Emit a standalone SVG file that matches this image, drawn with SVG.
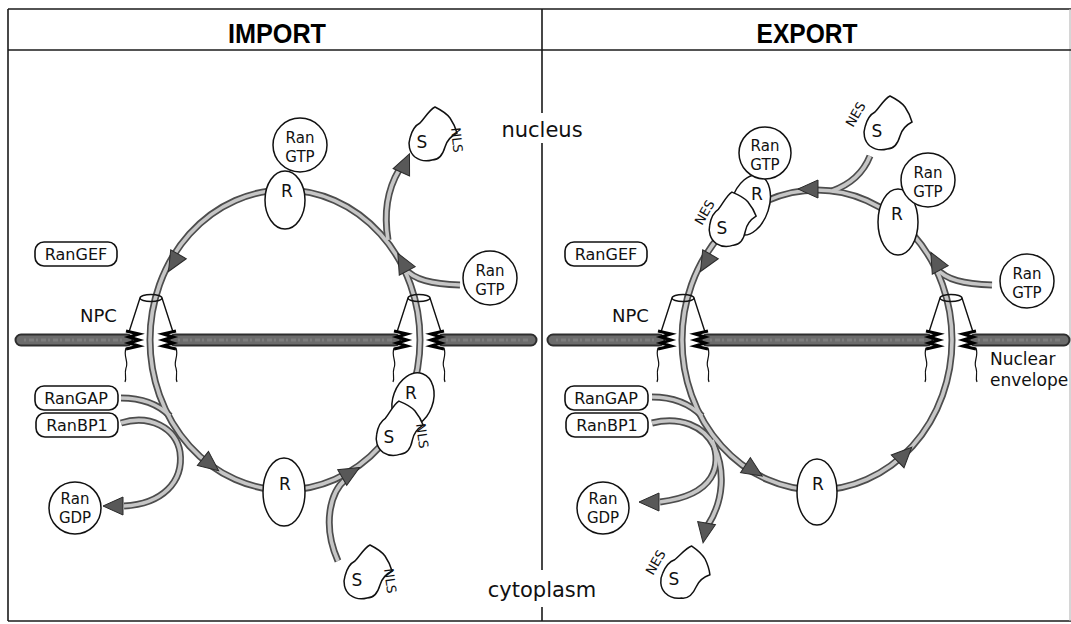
<svg xmlns="http://www.w3.org/2000/svg" width="1071" height="624" viewBox="0 0 1071 624">
<defs>
<style>
.t{font-family:"DejaVu Sans","Liberation Sans",sans-serif;fill:#111}
.title{font-family:"Liberation Sans","DejaVu Sans",sans-serif;font-weight:bold;font-size:28px;text-anchor:middle;fill:#000}
.big{font-size:21px;text-anchor:middle}
.lbl{font-size:16px;text-anchor:middle}
.sm{font-size:15px;text-anchor:middle}
.rr{font-size:17px;text-anchor:middle}
.sig{font-size:13px}
.frame{stroke:#1a1a1a;stroke-width:1.6;fill:none}
.node{fill:#fff;stroke:#111;stroke-width:1.5}
.box{fill:#fff;stroke:#111;stroke-width:1.6}
.ah{fill:#585858;stroke:#2a2a2a;stroke-width:1}
.memo{stroke:#2e2e2e;stroke-width:13;stroke-linecap:round;fill:none}
.memi{stroke:#6c6c6c;stroke-width:9;stroke-linecap:round;fill:none}
.memt{stroke:#7d7d7d;stroke-width:3;stroke-dasharray:2 3 5 2;fill:none}
.npc{stroke:#111;fill:none;stroke-width:1.4}
.zz{stroke:#000;stroke-width:3;fill:none}
.trko{fill:none;stroke:#4d4d4d;stroke-width:7}
.trki{fill:none;stroke:#c6c6c6;stroke-width:3.6}
</style>
<path id="cargo" d="M -3,-19 C 2,-24 6,-32 12,-35 C 18,-32 24,-28 27,-24 C 31,-18 33,-13 34,-9 C 28,-6 24,-2 22,5 C 20,12 16,18 9,18 C 2,20 -4,18 -8,15 C -14,10 -15,2 -13,-4 C -11,-12 -7,-17 -3,-19 Z"/>
<path id="ah" d="M 11,0 L -9,-9 L -9,9 Z"/>
<g id="npc">
<path d="M -11,-42 L -22,-8 M 11,-42 L 22,-8"/>
<ellipse cx="0" cy="-42" rx="11" ry="3.5"/>
<path d="M -25 8 c -3 8 3 14 0 20 c -2 6 1 10 -1 14 M 25 8 c 3 8 -3 14 0 20 c 2 6 -1 10 1 14" stroke-width="1.2"/>
<path class="zz" d="M -25,-9 L -12,-6 L -22,-3 L -12,0 L -22,3 L -12,6 L -25,9"/>
<path class="zz" d="M 25,-9 L 12,-6 L 22,-3 L 12,0 L 22,3 L 12,6 L 25,9"/>
</g>
<g id="trk">
<ellipse cx="285" cy="340" rx="135" ry="150"/>
<path d="M 460 285 C 432 284, 414 280, 404 268"/>
<path d="M 388 240 C 384 215, 386 192, 399 170"/>
<path d="M 121 398 C 142 398, 158 404, 170 416"/>
<path d="M 121 423 C 150 414, 176 428, 180 452 C 184 482, 162 504, 124 506"/>
<path d="M 346 479 C 330 492, 322 525, 338 561"/>
<ellipse cx="817" cy="340" rx="135" ry="150"/>
<path d="M 992 285 C 964 284, 946 280, 936 268"/>
<path d="M 832 191 C 846 186, 862 176, 870 156"/>
<path d="M 652 397 C 675 397, 690 404, 702 416"/>
<path d="M 652 423 C 680 416, 704 426, 714 446"/>
<path d="M 712 440 C 722 465, 716 495, 660 502"/>
<path d="M 714 446 C 725 470, 724 500, 708 525"/>
</g>
</defs>

<g id="frame">
<line class="frame" x1="8" y1="9" x2="1071" y2="9"/>
<line class="frame" x1="8" y1="9" x2="8" y2="621"/>
<line class="frame" x1="8" y1="621" x2="1071" y2="621" stroke="#555"/>
<line x1="1070" y1="9" x2="1070" y2="621" stroke="#bbb" stroke-width="1.2"/>
<line class="frame" x1="8" y1="50" x2="1071" y2="50"/>
<path class="frame" d="M 542 9 V 113 M 542 143 V 570 M 542 607 V 621"/>
</g>

<g id="titles">
<text class="title" x="277" y="43" textLength="98" lengthAdjust="spacingAndGlyphs">IMPORT</text>
<text class="title" x="807" y="43" textLength="101" lengthAdjust="spacingAndGlyphs">EXPORT</text>
<text class="t big" x="542" y="137">nucleus</text>
<text class="t big" x="542" y="597">cytoplasm</text>
</g>

<g id="membrane">
<path class="memo" d="M 21 340 H 127 M 175 340 H 395 M 443 340 H 531 M 553 340 H 659 M 707 340 H 927 M 975 340 H 1064"/>
<path class="memi" d="M 21 340 H 127 M 175 340 H 395 M 443 340 H 531 M 553 340 H 659 M 707 340 H 927 M 975 340 H 1064"/>
<path class="memt" d="M 24 340 H 124 M 178 340 H 392 M 446 340 H 528 M 556 340 H 656 M 710 340 H 924 M 978 340 H 1061"/>
<text class="t" x="990" y="365" font-size="17">Nuclear</text>
<text class="t" x="990" y="386" font-size="17">envelope</text>
</g>

<g id="connectors">
<use href="#trk" class="trko"/>
<use href="#trk" class="trki"/>
<use href="#ah" class="ah" transform="translate(174,262) rotate(120)"/>
<use href="#ah" class="ah" transform="translate(210,464) rotate(38)"/>
<use href="#ah" class="ah" transform="translate(350,473) rotate(-30)"/>
<use href="#ah" class="ah" transform="translate(403,263) rotate(-118)"/>
<use href="#ah" class="ah" transform="translate(405,164) rotate(-66)"/>
<use href="#ah" class="ah" transform="translate(114,506) rotate(180)"/>
<use href="#ah" class="ah" transform="translate(706,262) rotate(120)"/>
<use href="#ah" class="ah" transform="translate(809,189) rotate(180)"/>
<use href="#ah" class="ah" transform="translate(936,262) rotate(-118)"/>
<use href="#ah" class="ah" transform="translate(753,470) rotate(33)"/>
<use href="#ah" class="ah" transform="translate(904,455) rotate(-45)"/>
<use href="#ah" class="ah" transform="translate(650,502) rotate(180)"/>
<use href="#ah" class="ah" transform="translate(705,532) rotate(100)"/>
</g>

<g id="npcs" class="npc">
<use href="#npc" transform="translate(151,340)"/>
<use href="#npc" transform="translate(419,340)"/>
<use href="#npc" transform="translate(683,340)"/>
<use href="#npc" transform="translate(951,340)"/>
<text class="t" x="80" y="322" font-size="18" stroke="none">NPC</text>
<text class="t" x="612" y="322" font-size="18" stroke="none">NPC</text>
</g>

<!-- IMPORT panel nodes -->
<g id="imp-rangef"><rect class="box" x="35" y="242" width="82" height="24" rx="9"/><text class="t lbl" x="76" y="260">RanGEF</text></g>
<g id="imp-rangap"><rect class="box" x="35" y="386" width="83" height="24" rx="9"/><text class="t lbl" x="76" y="404">RanGAP</text></g>
<g id="imp-ranbp1"><rect class="box" x="36" y="413" width="82" height="24" rx="9"/><text class="t lbl" x="77" y="431">RanBP1</text></g>
<g id="imp-rangdp"><circle class="node" cx="75" cy="508" r="26"/><text class="t sm" x="75" y="504">Ran</text><text class="t sm" x="75" y="523">GDP</text></g>
<g id="imp-r-top"><ellipse class="node" cx="285" cy="200" rx="20" ry="29"/><text class="t rr" x="287" y="197">R</text></g>
<g id="imp-rangtp-top"><circle class="node" cx="300" cy="145" r="27"/><text class="t sm" x="300" y="143">Ran</text><text class="t sm" x="300" y="162">GTP</text></g>
<g id="imp-rangtp-right"><circle class="node" cx="490" cy="278" r="27"/><text class="t sm" x="490" y="276">Ran</text><text class="t sm" x="490" y="295">GTP</text></g>
<g id="imp-cargo-nuc"><use href="#cargo" class="node" transform="translate(423,142)"/><text class="t rr" x="422" y="148">S</text><text class="t sig" transform="translate(451,128) rotate(84)">NLS</text></g>
<g id="imp-r-bottom"><ellipse class="node" cx="284" cy="492" rx="21" ry="34"/><text class="t rr" x="285" y="490">R</text></g>
<g id="imp-complex"><ellipse class="node" cx="413" cy="400" rx="20" ry="28" transform="rotate(20,413,400)"/><text class="t rr" x="411" y="399">R</text><use href="#cargo" class="node" transform="translate(390,437) rotate(-5)"/><text class="t rr" x="389" y="443">S</text><text class="t sig" transform="translate(416,424) rotate(82)">NLS</text></g>
<g id="imp-cargo-cyt"><use href="#cargo" class="node" transform="translate(358,580)"/><text class="t rr" x="357" y="586">S</text><text class="t sig" transform="translate(384,569) rotate(82)">NLS</text></g>

<!-- EXPORT panel nodes -->
<g id="exp-rangef"><rect class="box" x="565" y="242" width="82" height="24" rx="9"/><text class="t lbl" x="606" y="260">RanGEF</text></g>
<g id="exp-rangap"><rect class="box" x="565" y="386" width="83" height="24" rx="9"/><text class="t lbl" x="606" y="404">RanGAP</text></g>
<g id="exp-ranbp1"><rect class="box" x="566" y="413" width="82" height="24" rx="9"/><text class="t lbl" x="607" y="431">RanBP1</text></g>
<g id="exp-rangdp"><circle class="node" cx="603" cy="508" r="26"/><text class="t sm" x="603" y="504">Ran</text><text class="t sm" x="603" y="523">GDP</text></g>
<g id="exp-complex"><ellipse class="node" cx="750" cy="205" rx="19" ry="31" transform="rotate(18,750,205)"/><text class="t rr" x="757" y="200">R</text><use href="#cargo" class="node" transform="translate(723,228) rotate(-5)"/><text class="t rr" x="722" y="234">S</text><text class="t sig" transform="translate(702,226) rotate(-60)">NES</text><circle class="node" cx="765" cy="153" r="26"/><text class="t sm" x="765" y="151">Ran</text><text class="t sm" x="765" y="170">GTP</text></g>
<g id="exp-r-right"><ellipse class="node" cx="898" cy="222" rx="20" ry="33"/><text class="t rr" x="897" y="220">R</text><circle class="node" cx="928" cy="180" r="27"/><text class="t sm" x="928" y="178">Ran</text><text class="t sm" x="928" y="197">GTP</text></g>
<g id="exp-cargo-nuc"><use href="#cargo" class="node" transform="translate(878,131)"/><text class="t rr" x="877" y="137">S</text><text class="t sig" transform="translate(853,128) rotate(-60)">NES</text></g>
<g id="exp-rangtp-right"><circle class="node" cx="1027" cy="281" r="27"/><text class="t sm" x="1027" y="279">Ran</text><text class="t sm" x="1027" y="298">GTP</text></g>
<g id="exp-r-bottom"><ellipse class="node" cx="817" cy="492" rx="20" ry="33"/><text class="t rr" x="818" y="490">R</text></g>
<g id="exp-cargo-cyt"><use href="#cargo" class="node" transform="translate(675,579) rotate(8)"/><text class="t rr" x="674" y="585">S</text><text class="t sig" transform="translate(653,576) rotate(-60)">NES</text></g>
</svg>
